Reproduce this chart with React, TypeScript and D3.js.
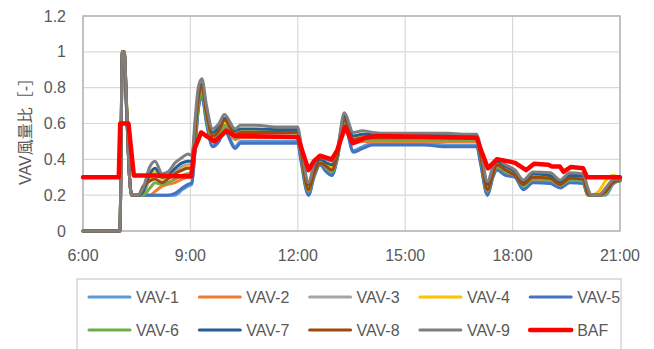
import React from "react";
import * as d3 from "d3";

// shared time grid (hours) for VAV series
const T = [
  6.0, 7.03, 7.1, 7.15, 7.22, 7.3, 7.36,
  7.45, 7.54, 7.68, 7.87, 8.01, 8.21, 8.37, 8.57, 8.77, 8.93, 9.04,
  9.13, 9.22, 9.32, 9.45, 9.62, 9.8, 9.95, 10.25, 10.4, 10.8, 11.5, 12.0,
  12.08, 12.3, 12.45, 12.62, 12.8, 12.95, 13.1, 13.3, 13.55, 13.8, 14.1, 14.5, 15.0,
  15.5, 16.2, 16.6, 17.0,
  17.1, 17.3, 17.45, 17.56, 17.8, 18.07, 18.3, 18.57, 19.05, 19.33, 19.6, 19.97, 20.1, 20.2, 20.4, 20.6, 20.8, 21.0,
];

const vav1 = [
  0, 0, 0.98, 0.98, 0.66, 0.3, 0.2,
  0.2, 0.2, 0.2, 0.2, 0.2, 0.2, 0.2, 0.2, 0.23, 0.25, 0.26,
  0.46, 0.68, 0.76, 0.61, 0.48, 0.51, 0.57, 0.47, 0.5, 0.5, 0.5, 0.5,
  0.41, 0.2, 0.3, 0.37, 0.33, 0.31, 0.4, 0.6, 0.45, 0.47, 0.49, 0.49, 0.49,
  0.49, 0.48, 0.48, 0.48,
  0.39, 0.2, 0.3, 0.345, 0.315, 0.3, 0.235, 0.275, 0.27, 0.245, 0.275, 0.27, 0.2, 0.2, 0.2, 0.2, 0.26, 0.28,
];
const vav2 = [
  0, 0, 1.0, 1.0, 0.67, 0.3, 0.2,
  0.2, 0.2, 0.2, 0.2, 0.22, 0.25, 0.26, 0.27, 0.29, 0.3, 0.3,
  0.48, 0.69, 0.77, 0.62, 0.5, 0.53, 0.58, 0.51, 0.52, 0.52, 0.52, 0.52,
  0.43, 0.22, 0.31, 0.38, 0.34, 0.32, 0.41, 0.61, 0.49, 0.5, 0.5, 0.5, 0.5,
  0.5, 0.5, 0.5, 0.5,
  0.41, 0.22, 0.31, 0.355, 0.325, 0.305, 0.245, 0.285, 0.28, 0.25, 0.28, 0.275, 0.2, 0.2, 0.2, 0.21, 0.27, 0.28,
];
const vav3 = [
  0, 0, 1.0, 1.0, 0.68, 0.3, 0.2,
  0.2, 0.2, 0.21, 0.29, 0.32, 0.29, 0.3, 0.33, 0.36, 0.37, 0.37,
  0.56, 0.74, 0.8, 0.66, 0.54, 0.57, 0.62, 0.55, 0.56, 0.56, 0.56, 0.56,
  0.47, 0.25, 0.34, 0.39, 0.37, 0.36, 0.43, 0.63, 0.52, 0.53, 0.53, 0.53, 0.53,
  0.53, 0.53, 0.525, 0.525,
  0.44, 0.25, 0.34, 0.38, 0.35, 0.32, 0.265, 0.31, 0.305, 0.27, 0.305, 0.3, 0.22, 0.2, 0.2, 0.22, 0.275, 0.285,
];
const vav4 = [
  0, 0, 1.0, 1.0, 0.7, 0.3, 0.2,
  0.2, 0.2, 0.22, 0.3, 0.33, 0.29, 0.3, 0.32, 0.34, 0.36, 0.36,
  0.55, 0.73, 0.79, 0.65, 0.53, 0.56, 0.61, 0.55, 0.56, 0.565, 0.565, 0.565,
  0.47, 0.25, 0.34, 0.39, 0.37, 0.35, 0.43, 0.62, 0.52, 0.53, 0.53, 0.53, 0.53,
  0.53, 0.525, 0.525, 0.525,
  0.44, 0.24, 0.33, 0.37, 0.345, 0.315, 0.26, 0.305, 0.3, 0.265, 0.3, 0.295, 0.21, 0.2, 0.22, 0.28, 0.31, 0.3,
];
const vav5 = [
  0, 0, 0.97, 0.97, 0.65, 0.3, 0.2,
  0.2, 0.2, 0.2, 0.2, 0.2, 0.2, 0.2, 0.21, 0.24, 0.26, 0.27,
  0.45, 0.68, 0.75, 0.6, 0.47, 0.5, 0.56, 0.46, 0.49, 0.49, 0.49, 0.49,
  0.4, 0.2, 0.3, 0.37, 0.33, 0.31, 0.4, 0.6, 0.44, 0.46, 0.48, 0.48, 0.48,
  0.48, 0.47, 0.47, 0.47,
  0.38, 0.2, 0.3, 0.34, 0.31, 0.3, 0.23, 0.27, 0.265, 0.24, 0.27, 0.265, 0.2, 0.2, 0.2, 0.21, 0.27, 0.28,
];
const vav6 = [
  0, 0, 1.0, 1.0, 0.67, 0.3, 0.2,
  0.2, 0.2, 0.2, 0.24, 0.27, 0.26, 0.27, 0.29, 0.31, 0.32, 0.32,
  0.5, 0.7, 0.78, 0.63, 0.51, 0.54, 0.59, 0.52, 0.53, 0.53, 0.53, 0.53,
  0.44, 0.22, 0.31, 0.38, 0.35, 0.33, 0.41, 0.61, 0.5, 0.51, 0.51, 0.51, 0.51,
  0.51, 0.505, 0.505, 0.505,
  0.42, 0.22, 0.315, 0.36, 0.33, 0.31, 0.25, 0.29, 0.285, 0.255, 0.285, 0.28, 0.2, 0.2, 0.2, 0.21, 0.27, 0.28,
];
const vav7 = [
  0, 0, 1.0, 1.0, 0.68, 0.3, 0.2,
  0.2, 0.2, 0.22, 0.32, 0.35, 0.3, 0.31, 0.35, 0.38, 0.39, 0.39,
  0.58, 0.76, 0.82, 0.68, 0.55, 0.58, 0.63, 0.56, 0.57, 0.57, 0.565, 0.565,
  0.48, 0.26, 0.35, 0.4, 0.38, 0.37, 0.44, 0.64, 0.53, 0.54, 0.54, 0.535, 0.535,
  0.535, 0.535, 0.53, 0.53,
  0.45, 0.26, 0.35, 0.39, 0.36, 0.33, 0.27, 0.32, 0.31, 0.275, 0.31, 0.31, 0.23, 0.2, 0.2, 0.23, 0.28, 0.29,
];
const vav8 = [
  0, 0, 1.0, 1.0, 0.68, 0.3, 0.2,
  0.2, 0.2, 0.25, 0.28, 0.29, 0.27, 0.29, 0.32, 0.34, 0.35, 0.35,
  0.55, 0.74, 0.81, 0.66, 0.53, 0.56, 0.62, 0.54, 0.55, 0.55, 0.55, 0.55,
  0.46, 0.23, 0.32, 0.38, 0.36, 0.34, 0.42, 0.62, 0.51, 0.52, 0.52, 0.52, 0.52,
  0.52, 0.52, 0.52, 0.52,
  0.43, 0.23, 0.32, 0.37, 0.34, 0.31, 0.26, 0.3, 0.295, 0.26, 0.295, 0.29, 0.21, 0.2, 0.2, 0.22, 0.27, 0.285,
];
const vav9 = [
  0, 0, 1.0, 1.0, 0.7, 0.3, 0.2,
  0.2, 0.2, 0.24, 0.36, 0.39, 0.32, 0.33, 0.38, 0.41, 0.43, 0.42,
  0.62, 0.8, 0.85, 0.7, 0.57, 0.6, 0.65, 0.57, 0.59, 0.59, 0.58, 0.58,
  0.5, 0.27, 0.37, 0.41, 0.4, 0.39, 0.45, 0.66, 0.55, 0.56, 0.55, 0.545, 0.545,
  0.545, 0.545, 0.54, 0.54,
  0.47, 0.275, 0.36, 0.4, 0.37, 0.34, 0.285, 0.33, 0.325, 0.285, 0.325, 0.32, 0.24, 0.2, 0.2, 0.24, 0.285, 0.29,
];

// BAF has its own time grid
const tBAF = [
  6.0, 7.0, 7.04, 7.27, 7.42, 8.0, 8.5, 9.02, 9.12, 9.3,
  9.45, 9.68, 9.85, 10.0, 10.25, 12.0, 12.12, 12.3, 12.45, 12.62,
  12.95, 13.1, 13.32, 13.54, 13.88, 14.2, 17.0, 17.12, 17.31, 17.56,
  17.85, 18.07, 18.38, 18.6, 19.0, 19.1, 19.32, 19.42, 19.62, 19.97,
  20.08, 21.0,
];
const baf = [
  0.3, 0.3, 0.6, 0.6, 0.31, 0.31, 0.305, 0.305, 0.46, 0.55,
  0.53, 0.5, 0.53, 0.56, 0.53, 0.525, 0.45, 0.34, 0.39, 0.42,
  0.4, 0.45, 0.58, 0.49, 0.52, 0.53, 0.52, 0.45, 0.35, 0.4,
  0.39, 0.38, 0.34, 0.375, 0.37, 0.36, 0.36, 0.33, 0.357, 0.35,
  0.3, 0.3,
];

const seriesNames = ["VAV-1", "VAV-2", "VAV-3", "VAV-4", "VAV-5", "VAV-6", "VAV-7", "VAV-8", "VAV-9", "BAF"];
const seriesColors = ["#5B9BD5", "#ED7D31", "#A5A5A5", "#FFC000", "#4472C4", "#70AD47", "#255E91", "#9E480E", "#7F7F7F", "#FF0000"];
const vavValues = [vav1, vav2, vav3, vav4, vav5, vav6, vav7, vav8, vav9];

const yTicks = [0, 0.2, 0.4, 0.6, 0.8, 1, 1.2];
const xTicks = [6, 9, 12, 15, 18, 21];
const xTickLabels = ["6:00", "9:00", "12:00", "15:00", "18:00", "21:00"];
const yTitle = "VAV風量比［-］";

const W = 654;
const H = 349;
const FONT = "'Liberation Sans', Arial, 'Noto Sans CJK JP', sans-serif";
const TEXT = "#595959";

export default function App() {
  const x = d3.scaleLinear().domain([6, 21]).range([83, 620]);
  const y = d3.scaleLinear().domain([0, 1.2]).range([231, 16]);
  const smooth = d3
    .line<[number, number]>()
    .x((d) => x(d[0]))
    .y((d) => y(d[1]))
    .curve(d3.curveMonotoneX);
  const straight = d3
    .line<[number, number]>()
    .x((d) => x(d[0]))
    .y((d) => y(d[1]));

  const vavPaths = vavValues.map((vals) => smooth(T.map((t, i) => [t, vals[i]] as [number, number])) || "");
  const bafPath = straight(tBAF.map((t, i) => [t, baf[i]] as [number, number])) || "";

  return (
    <div style={{ position: "absolute", left: 0, top: 0 }}>
      <svg width={W} height={H} style={{ display: "block", background: "#fff" }}>
        <rect x={0} y={0} width={W} height={H} fill="#fff" />
        {yTicks.map((v) => (
          <line key={"gy" + v} x1={x(6)} x2={x(21)} y1={y(v)} y2={y(v)} stroke="#D9D9D9" strokeWidth={1.2} />
        ))}
        {xTicks.map((t) => (
          <line key={"gx" + t} x1={x(t)} x2={x(t)} y1={y(0)} y2={y(1.2)} stroke="#D9D9D9" strokeWidth={1.2} />
        ))}
        <rect x={x(6)} y={y(1.2)} width={x(21) - x(6)} height={y(0) - y(1.2)} fill="none" stroke="#B4B4B4" strokeWidth={1.5} />

        {vavPaths.map((d, i) => (
          <path key={"s" + i} d={d} fill="none" stroke={seriesColors[i]} strokeWidth={3} strokeLinejoin="round" strokeLinecap="round" />
        ))}
        <path d={bafPath} fill="none" stroke={seriesColors[9]} strokeWidth={4.5} strokeLinejoin="round" strokeLinecap="round" />

        {yTicks.map((v) => (
          <text key={"ty" + v} x={66} y={y(v)} dy="0.35em" textAnchor="end" fontFamily={FONT} fontSize={16} fill={TEXT}>
            {String(v)}
          </text>
        ))}
        {xTicks.map((t, i) => (
          <text key={"tx" + t} x={x(t)} y={255} dy="0.35em" textAnchor="middle" fontFamily={FONT} fontSize={16} fill={TEXT}>
            {xTickLabels[i]}
          </text>
        ))}
        <text
          transform={`translate(25, ${(y(0) + y(1.2)) / 2 + 4}) rotate(-90)`}
          textAnchor="middle"
          dy="0.35em"
          fontFamily={FONT}
          fontSize={16}
          fill={TEXT}
        >
          {yTitle}
        </text>

        <rect x={77} y={279} width={544} height={80} fill="#fff" stroke="#BFBFBF" strokeWidth={1} />
        {seriesNames.map((name, i) => {
          const col = i % 5;
          const row = Math.floor(i / 5);
          const lx = 89 + col * 110.3;
          const ly = 297 + row * 33;
          return (
            <g key={"lg" + i}>
              <line x1={lx} x2={lx + 41} y1={ly} y2={ly} stroke={seriesColors[i]} strokeWidth={i === 9 ? 4.5 : 3} strokeLinecap="round" />
              <text x={lx + 47} y={ly} dy="0.35em" fontFamily={FONT} fontSize={16} fill={TEXT}>
                {name}
              </text>
            </g>
          );
        })}
      </svg>
    </div>
  );
}
